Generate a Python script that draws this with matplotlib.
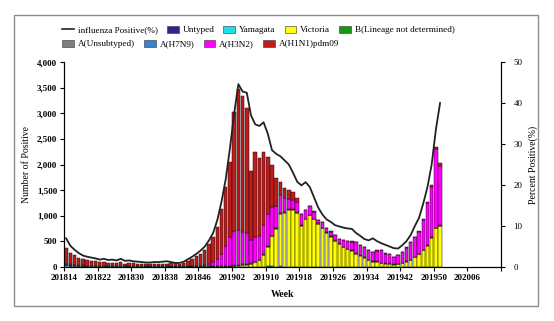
import numpy as np
import matplotlib
matplotlib.use("Agg")
import matplotlib.pyplot as plt
from matplotlib.patches import Patch, Rectangle
from matplotlib.lines import Line2D
from matplotlib.ticker import StrMethodFormatter

plt.rcParams['font.family'] = ['Liberation Serif', 'DejaVu Serif']

# weeks 201814 .. 201951 carry data, axis runs on to 202013
weeks = [f"2018{w:02d}" for w in range(14, 53)] + [f"2019{w:02d}" for w in range(1, 53)] \
    + [f"2020{w:02d}" for w in range(1, 14)]

# weekly counts, 201814 .. 201951
yamagata = [30, 25, 20, 15, 12, 10, 8, 6, 5, 8, 5, 4, 6, 8, 4, 5,
            3, 3, 3, 3, 3, 3, 3, 3, 3, 3, 3, 3, 3, 3, 3, 3,
            3, 3, 3, 3, 3, 3, 3, 3, 3, 3, 3, 3, 3, 3, 3, 3,
            10, 15, 5, 15, 5,
            2, 2, 2, 2, 2, 2, 2, 2, 2, 2, 2, 2, 2, 2, 2, 2, 2, 2, 2, 2,
            2, 2, 2, 2, 2, 2, 2, 2, 2, 2, 2, 2, 2, 2, 2, 2, 2]
victoria = [3, 3, 3, 3, 3, 3, 3, 3, 3, 3, 3, 3, 3, 3, 3, 3, 3, 3, 3, 3,
            3, 3, 3, 3, 3, 3, 3, 3, 3, 3, 3, 3, 3, 3, 3, 3, 3, 3, 3, 3,
            15, 25, 35, 40, 55, 90, 130, 230, 390, 585,
            740, 1020, 1055, 1115, 1110, 1050, 800, 925, 1005, 925,
            835, 750, 665, 585, 505, 445, 385, 345, 310, 250,
            215, 180, 128, 105, 100, 72, 60, 55, 42, 50,
            70, 105, 130, 185, 245, 320, 410, 565, 750, 795]
b_lnd = [15, 10, 8, 6, 4, 4, 4, 4, 4, 4, 4, 4, 4, 4, 4, 4,
         4, 4, 4, 4, 4, 4, 4, 4, 4, 4, 4, 4, 4, 4, 4, 4, 4, 4, 4, 4, 4, 4, 4, 4,
         10, 10, 10, 10, 10, 10, 10, 10, 10, 10, 10, 10, 10, 10, 10, 10, 10, 10, 10, 10,
         10, 10, 10, 10, 10, 10, 10, 10, 10, 10, 10, 10, 10, 10, 10, 10, 10, 10, 10, 10,
         10, 10, 10, 10, 10, 10, 10, 10, 10, 10]
a_unsub = [10, 8, 8, 8, 8, 8, 8, 8, 8, 8, 8, 8, 8, 8, 8, 8, 8, 8, 8, 8,
           8, 8, 8, 8, 8, 8, 8, 8, 8, 8, 8, 8,
           5, 5, 5, 5, 5, 5, 5, 5,
           3, 3, 3, 3, 3, 3, 3, 3, 3, 3, 3, 3, 3, 3, 3, 3, 3, 3, 3, 3,
           3, 3, 3, 3, 3, 3, 3, 3, 3, 3, 3, 3, 3, 3, 3, 3, 3, 3, 3, 3,
           3, 3, 3, 3, 3, 3, 3, 3, 3, 3]
h3n2 = [5, 3, 3, 3, 3, 3, 3, 3, 3, 3, 3, 3, 3, 3, 3, 3, 3, 3, 3, 3,
        3, 3, 3, 3, 3, 3, 3, 3, 3, 3, 3, 3,
        10, 20, 40, 80, 140, 240, 390, 570,
        670, 675, 640, 615, 460, 485, 465, 575, 617, 557, 440, 350, 267, 200, 175, 205,
        210, 168, 170, 140, 67, 110, 82, 92, 97, 92, 127, 152, 172, 217, 203, 192, 179,
        172, 202, 235, 187, 177, 130, 167, 212, 260, 337, 380, 428, 585, 823, 988, 1535, 1170]
h1n1 = [314, 231, 183, 145, 125, 112, 99, 84, 70, 72, 50, 51, 59, 67, 46, 55,
        49, 44, 39, 39, 34, 34, 39, 44, 44, 49, 54, 39, 59, 94, 129, 189,
        235, 295, 395, 485, 620, 875, 1160, 1470,
        2329, 2764, 2639, 2429, 1349, 1659, 1519, 1429, 1120, 820, 542, 267, 195, 165, 160, 85,
        15, 12, 10, 10, 8, 5, 3, 3, 3, 3, 3, 3, 3, 3, 3, 3, 3, 8, 8,
        3, 3, 3, 3, 3, 3, 5, 8, 10, 12, 15, 20, 25, 45, 40]
# Untyped and A(H7N9) are zero every week
percent = [7.0, 5.2, 4.2, 3.4, 2.8, 2.5, 2.3, 2.1, 1.8, 2.0,
           1.7, 1.8, 1.6, 2.0, 1.5, 1.6, 1.4, 1.3, 1.2, 1.1,
           1.1, 1.2, 1.2, 1.3, 1.4, 1.2, 1.0, 1.0, 1.3, 1.9,
           2.5, 3.2, 4.0, 5.0, 6.5, 8.3, 11.5, 16.0, 21.5, 29.0,
           37.5, 44.6, 42.8, 42.5, 37.0, 34.8, 34.4, 35.3, 32.5, 28.5,
           27.6, 27.0, 26.0, 25.0, 23.0, 20.8, 19.9, 20.7, 19.5, 17.0,
           14.5, 12.8, 11.6, 11.0, 10.2, 9.9, 9.6, 9.4, 9.3, 8.3,
           7.6, 6.8, 6.5, 7.0, 6.3, 5.8, 5.4, 5.0, 4.6, 4.5,
           5.3, 6.3, 7.8, 10.0, 12.0, 15.5, 19.5, 25.0, 33.5, 40.0]

colors = {
    'Untyped': '#3B1E8E',
    'Yamagata': '#1EE0E8',
    'Victoria': '#FFFF00',
    'B(Lineage not determined)': '#129A12',
    'A(Unsubtyped)': '#7F7F7F',
    'A(H7N9)': '#3A80D0',
    'A(H3N2)': '#FF00FF',
    'A(H1N1)pdm09': '#C01C1C',
}

stack = [('Yamagata', yamagata), ('Victoria', victoria),
         ('B(Lineage not determined)', b_lnd), ('A(Unsubtyped)', a_unsub),
         ('A(H3N2)', h3n2), ('A(H1N1)pdm09', h1n1)]

W, H = 554, 321
fig = plt.figure(figsize=(W / 100, H / 100), dpi=100)
fig.patches.append(Rectangle((14 / W, 1 - 306 / H), (538 - 14) / W, (306 - 15) / H,
                             transform=fig.transFigure, fill=False,
                             edgecolor='#8c8c8c', linewidth=1.0))

ax = fig.add_axes([64 / W, 1 - 267 / H, (501 - 64) / W, (267 - 62) / H])
x = np.arange(len(h1n1))
bottom = np.zeros(len(x))
for name, vals in stack:
    vals = np.array(vals, dtype=float)
    ax.bar(x, vals, width=0.82, bottom=bottom, color=colors[name],
           edgecolor='#111111', linewidth=0.35)
    bottom += vals

ax.set_xlim(-0.5, len(weeks) - 0.5)
ax.set_ylim(0, 4000)
ax.set_yticks(np.arange(0, 4001, 500))
ax.yaxis.set_major_formatter(StrMethodFormatter('{x:,.0f}'))
xt = np.arange(0, len(weeks) + 1, 8)
ax.set_xticks(xt - 0.5)
ax.set_xticklabels([weeks[i] if i < len(weeks) else '' for i in xt])
ax.tick_params(axis='both', labelsize=6.5, length=3, width=0.8, pad=2)
for lab in ax.get_xticklabels() + ax.get_yticklabels():
    lab.set_fontweight('bold')
ax.spines['top'].set_visible(False)
ax.set_ylabel('Number of Positive', fontsize=7, labelpad=4)
ax.set_xlabel('Week', fontsize=7, fontweight='bold', labelpad=6)

ax2 = ax.twinx()
ax2.plot(x, percent, color='#222222', linewidth=1.3)
ax2.set_ylim(0, 50)
ax2.set_yticks(np.arange(0, 51, 10))
ax2.tick_params(axis='y', labelsize=6.5, length=3, width=0.8, pad=6)
ax2.spines['top'].set_visible(False)
ax2.set_ylabel('Percent Positive(%)', fontsize=7, labelpad=4)

def box(c):
    return Patch(facecolor=c, edgecolor='#333333', linewidth=0.4)

row1 = [Line2D([], [], color='#222222', linewidth=1.2), box(colors['Untyped']),
        box(colors['Yamagata']), box(colors['Victoria']),
        box(colors['B(Lineage not determined)'])]
lab1 = ['influenza Positive(%)', 'Untyped', 'Yamagata', 'Victoria', 'B(Lineage not determined)']
row2 = [box(colors['A(Unsubtyped)']), box(colors['A(H7N9)']),
        box(colors['A(H3N2)']), box(colors['A(H1N1)pdm09'])]
lab2 = ['A(Unsubtyped)', 'A(H7N9)', 'A(H3N2)', 'A(H1N1)pdm09']
kw = dict(loc='center left', frameon=False, fontsize=6.6, handlelength=1.3,
          handleheight=0.8, handletextpad=0.4, columnspacing=1.0,
          borderaxespad=0, borderpad=0)
fig.legend(row1, lab1, ncol=5, bbox_to_anchor=(62 / W, 1 - 30 / H), **kw)
fig.legend(row2, lab2, ncol=4, bbox_to_anchor=(62 / W, 1 - 44 / H), **kw)

fig.savefig('out.png', dpi=100)
